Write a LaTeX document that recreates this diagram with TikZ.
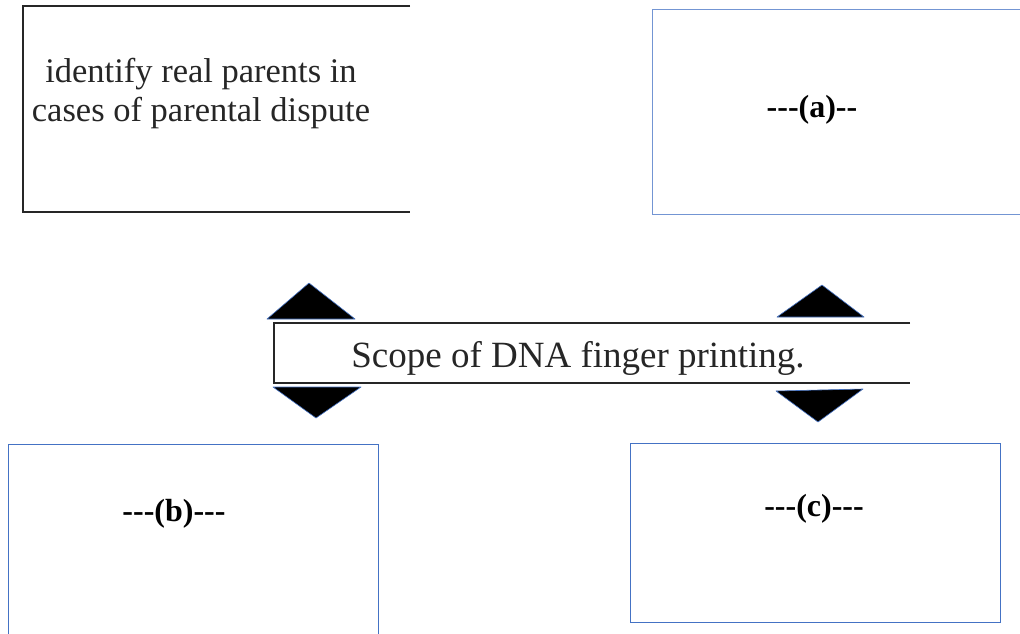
\documentclass[tikz,border=0pt]{standalone}
\usepackage{fontspec}
\setmainfont{Liberation Serif}
\newfontfamily\labelfont{Liberation Serif}[Ligatures=TeXOff]
\usepackage{xcolor}
\usepackage{tikz}
\usetikzlibrary{positioning}
\definecolor{boxblue}{RGB}{68,114,196}
\tikzstyle{openbox} = [rectangle, inner sep=0pt]
\tikzstyle{bluebox} = [rectangle, draw=boxblue, line width=1pt, inner sep=0pt]
\tikzstyle{opentext} = [font=\fontsize{34.5}{39}\selectfont, align=center, text=black!85]
\tikzstyle{scopetext} = [font=\fontsize{37}{42}\selectfont, text=black!85]
\tikzstyle{blank} = [font=\labelfont\fontsize{32}{36}\selectfont\bfseries]
\tikzstyle{edge} = [line width=1.5pt, black!85]
\tikzstyle{tri} = [fill=black, draw=boxblue, line width=0.6pt, line join=round]

\begin{document}
\begin{tikzpicture}[x=1pt, y=-1pt]
    \useasboundingbox (0,0) rectangle (1020,634);
    \clip (0,0) rectangle (1020,634);
    % boxes
    \node (use) [openbox, minimum width=387, minimum height=206] at (216.5,109) {};
    \node (boxa) [bluebox, draw=boxblue!75, minimum width=388, minimum height=204] at (846,112) {};
    \node (scope) [openbox, minimum width=636, minimum height=60] at (592,353) {};
    \node (boxb) [bluebox, minimum width=370, minimum height=210] at (193,549) {};
    \node (boxc) [bluebox, minimum width=370, minimum height=179] at (815,532.5) {};
    \draw[edge] (use.north east) -- (use.north west) -- (use.south west) -- (use.south east);
    \draw[edge] (scope.north east) -- (scope.north west) -- (scope.south west) -- (scope.south east);
    % texts
    \node (usetext) [opentext] at (201,94)
    {identify real parents in\\cases of parental dispute};
    \node (scopetxt) [scopetext, anchor=base] at (578,367) {Scope of DNA finger printing.};
    \node (labela) [blank, anchor=base] at (812,117) {---(a)--};
    \node (labelb) [blank, anchor=base] at (174,521) {---(b)---};
    \node (labelc) [blank, anchor=base] at (814,516) {---(c)---};
    % triangles
    \filldraw[tri] (267,319) -- (355,319) -- (309,283) -- cycle;
    \filldraw[tri] (273,387) -- (361,387) -- (316,418) -- cycle;
    \filldraw[tri] (777,317) -- (864,317) -- (822,285) -- cycle;
    \filldraw[tri] (776,391) -- (863,389) -- (818,422) -- cycle;
\end{tikzpicture}
\end{document}
